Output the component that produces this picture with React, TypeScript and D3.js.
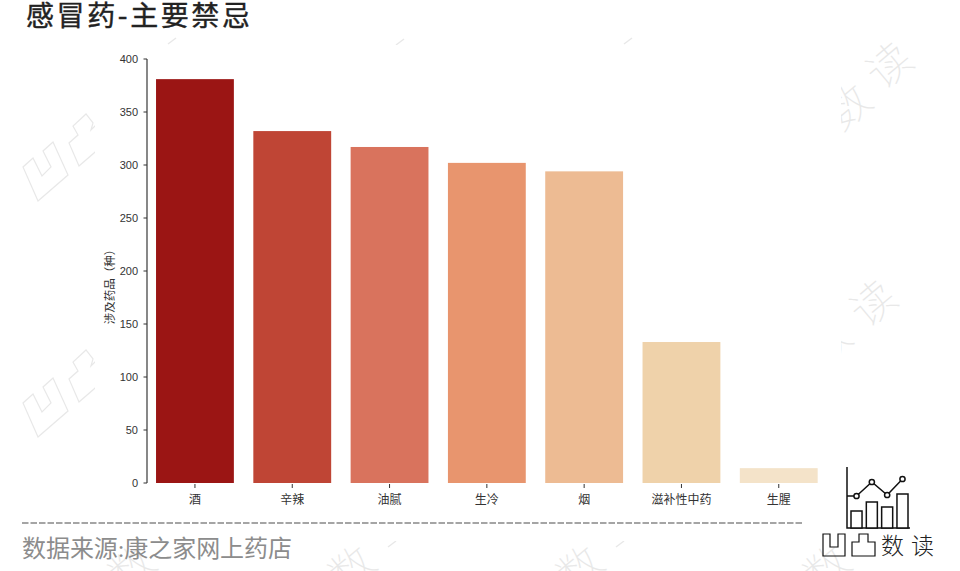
import * as d3 from "d3";

const categories = ["酒", "辛辣", "油腻", "生冷", "烟", "滋补性中药", "生腥"];
const counts = [381, 332, 317, 302, 294, 133, 14];
const barColors = ["#9b1514", "#bf4535", "#d9735d", "#e8956e", "#edbb93", "#efd2aa", "#f4e3c9"];
const yTicks = [0, 50, 100, 150, 200, 250, 300, 350, 400];
const logoBars = [17, 26, 21, 34];
const logoLine = [32, 46, 33, 49];

// watermark pieces, most of them sit behind the white chart panel
const markLogos = [[38, 201], [38, 437]];
const markGlyphs = [
  ["数", 846, 104], ["读", 887, 63],
  ["数", 826, 340], ["读", 871, 301],
  ["数", 825, 566], ["数", 350, 566], ["数", 578, 566], ["数", 130, 566],
];
const markBits = [[172, 41], [400, 42], [628, 41], [392, 544], [620, 544]];

const width = 960;
const height = 571;
const sansFont = "'Noto Sans CJK SC', sans-serif";
const serifFont = "'Liberation Serif', 'Noto Sans CJK SC', serif";
const tickColor = "#333";
const markColor = "#e8e8e8";

export default function App() {
  const x = d3.scaleBand<string>()
    .domain(categories)
    .range([146.3, 827.4])
    .paddingInner(0.2)
    .paddingOuter(0.1);
  const y = d3.scaleLinear([0, 400], [483, 59]);

  const logoX = d3.scaleBand<number>()
    .domain(d3.range(logoBars.length))
    .range([851, 908])
    .paddingInner(0.28);
  const logoY = d3.scaleLinear([0, 60], [528, 468]);
  const logoMid = (i: number) => (logoX(i) ?? 0) + logoX.bandwidth() / 2;
  const logoPath = d3.line<number>()
    .x((_, i) => logoMid(i))
    .y((d) => logoY(d));

  return (
    <svg
      width={width}
      height={height}
      style={{ position: "absolute", left: 0, top: 0, background: "#fff" }}
    >
      {markLogos.map(([mx, my]) => (
        <g key={my} transform={`translate(${mx},${my})`} fill="none" stroke={markColor} strokeWidth="1.2">
          <path d="M0,0 L30,-26 L15,-59 L5,-50 L13,-34 L4,-25 L-5,-43 L-15,-34 Z" />
          <path d="M41,-35 L31,-58 L40,-66 L35,-75 L48,-87 L55,-78 L53,-71 L61,-79 L71,-61 Z" />
        </g>
      ))}
      {markGlyphs.map(([g, gx, gy]) => (
        <text
          key={`${gx}-${gy}`}
          transform={`translate(${gx},${gy}) rotate(-40)`}
          textAnchor="middle"
          dominantBaseline="central"
          fontSize="44"
          fontFamily={sansFont}
          fontWeight="100"
          fill={markColor}
        >
          {g}
        </text>
      ))}
      {markBits.map(([bx, by]) => (
        <line key={bx} x1={bx - 4} x2={bx + 4} y1={by + 3} y2={by - 3} stroke={markColor} strokeWidth="1.4" />
      ))}

      <rect x="95" y="45" width="746" height="496" fill="#fff" />
      <rect x="0" y="0" width="960" height="36" fill="#fff" />

      <text
        x="26"
        y="26"
        fontSize="28"
        textLength="224"
        fontFamily={sansFont}
        fontWeight="400"
        fill="#222"
        stroke="#222"
        strokeWidth="0.4"
      >
        感冒药-主要禁忌
      </text>

      {categories.map((c, i) => (
        <rect
          key={c}
          x={x(c)}
          y={y(counts[i])}
          width={x.bandwidth()}
          height={y(0) - y(counts[i])}
          fill={barColors[i]}
        />
      ))}

      <line x1="147" x2="147" y1={y(400)} y2={y(0)} stroke="#555" strokeWidth="1.4" />
      {yTicks.map((t) => (
        <g key={t} transform={`translate(147,${y(t)})`}>
          <line x1="-3.5" x2="0" stroke="#333" strokeWidth="1" />
          <text x="-9" dy="0.35em" textAnchor="end" fontSize="11" fontFamily="'Liberation Sans', sans-serif" fill={tickColor}>
            {t}
          </text>
        </g>
      ))}
      <text
        transform="translate(109,284) rotate(-90)"
        textAnchor="middle"
        dominantBaseline="central"
        fontSize="11.5"
        fontFamily={sansFont}
        fill={tickColor}
      >
        涉及药品（种）
      </text>

      {categories.map((c) => {
        const cx = (x(c) ?? 0) + x.bandwidth() / 2;
        return (
          <g key={c} transform={`translate(${cx},483)`}>
            <line y1="1" y2="5" stroke="#333" strokeWidth="1" />
            <text y="21" textAnchor="middle" fontSize="12" fontFamily={sansFont} fill={tickColor}>
              {c}
            </text>
          </g>
        );
      })}

      <line x1="22" x2="802" y1="523" y2="523" stroke="#888" strokeWidth="1.5" strokeDasharray="6.5 2" />
      <text x="22" y="557" fontSize="24" textLength="270" fontFamily={serifFont} fill="#8c8c8c">
        数据来源:康之家网上药店
      </text>

      <g fill="none" stroke="#111" strokeWidth="1.5">
        <path d="M847,467 L847,528 L910,528" />
        {logoBars.map((b, i) => (
          <rect
            key={i}
            x={logoX(i)}
            y={logoY(b)}
            width={logoX.bandwidth()}
            height={logoY(0) - logoY(b)}
            fill="#fff"
          />
        ))}
        <path d={logoPath(logoLine) ?? undefined} />
        <line x1="847" x2={logoMid(0)} y1={logoY(logoLine[0])} y2={logoY(logoLine[0])} />
        {logoLine.map((v, i) => (
          <circle key={i} cx={logoMid(i)} cy={logoY(v)} r="2.6" fill="#fff" />
        ))}
        <path d="M823,534 L823,556 L845,556 L845,534 L838,534 L838,547 L830,547 L830,534 Z" strokeWidth="1.2" />
        <path d="M852,556 L852,542 L859,542 L859,534 L868,534 L868,542 L875,542 L875,556 Z" strokeWidth="1.2" />
      </g>
      <text x="881" y="554" fontSize="23" fontFamily={sansFont} fontWeight="300" fill="#222">
        数
      </text>
      <text x="911" y="554" fontSize="23" fontFamily={sansFont} fontWeight="300" fill="#222">
        读
      </text>
    </svg>
  );
}
